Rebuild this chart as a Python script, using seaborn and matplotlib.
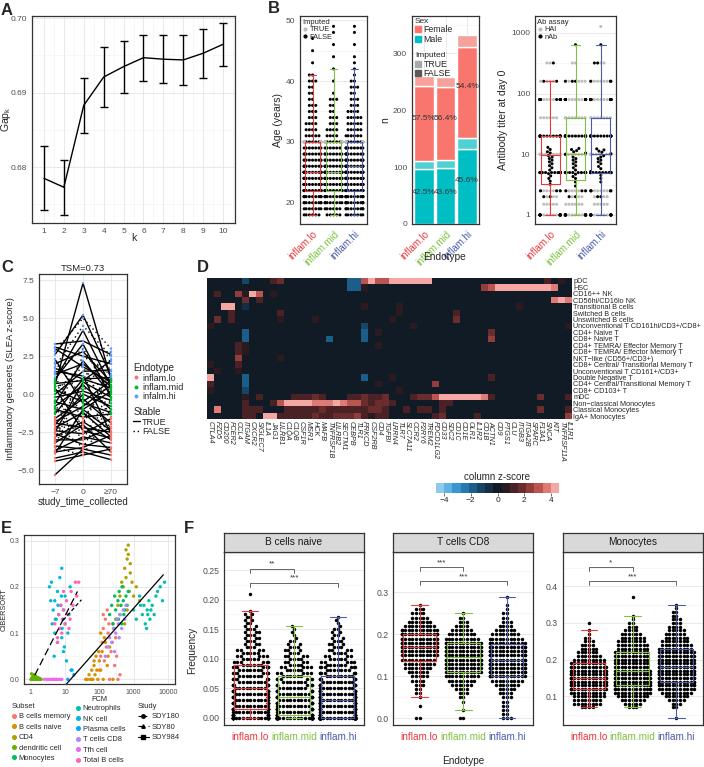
import warnings
warnings.filterwarnings('ignore')
import numpy as np
import pandas as pd
import matplotlib
matplotlib.use('Agg')
import matplotlib.pyplot as plt
import seaborn as sns
from matplotlib.colors import ListedColormap
from matplotlib.lines import Line2D
from matplotlib.patches import Patch

# ---------------- DATA ----------------
endos = ['inflam.lo', 'inflam.mid', 'inflam.hi']
endo_cols = ['#E8383D', '#7DC242', '#4A5BA8']

# A: gap statistic
k_vals = [1, 2, 3, 4, 5, 6, 7, 8, 9, 10]
gap_vals = [0.6785, 0.6773, 0.6883, 0.6921, 0.6935, 0.6947, 0.6945, 0.6944, 0.6953, 0.6965]
gap_se = [0.0043, 0.0037, 0.0037, 0.0040, 0.0035, 0.0031, 0.0032, 0.0033, 0.0033, 0.0029]

# B1: age counts (FALSE = not imputed) for ages 18..49, plus imputed (TRUE) at age 30
ages = list(range(18, 50))
age_lo = [6, 7, 9, 12, 14, 16, 14, 14, 10, 9, 8, 7, 5, 5, 4, 4, 3, 3, 3, 2, 2, 2, 3, 2, 0, 1, 0, 1, 0, 1, 0, 0]
age_mid = [5, 6, 8, 11, 13, 14, 12, 14, 10, 9, 8, 6, 5, 4, 4, 3, 3, 2, 2, 3, 1, 0, 1, 0, 1, 0, 1, 0, 1, 0, 1, 1]
age_hi = [7, 9, 12, 14, 16, 18, 15, 16, 12, 11, 10, 8, 7, 6, 5, 5, 5, 4, 3, 3, 2, 3, 2, 1, 1, 1, 1, 0, 1, 0, 1, 1]
age_imputed_value = 30
age_imputed_n = [14, 14, 16]

# B2: sex counts
male_false = [97, 98, 132]
male_true = [13, 14, 19]
female_false = [133, 128, 159]
female_true = [17, 18, 21]
pct_female = ['57.5%', '56.4%', '54.4%']
pct_male = ['42.5%', '43.6%', '45.6%']

# B3: antibody titers
titer_vals = [1, 1.5, 2, 2.5, 5, 10, 20, 40, 80, 160, 320, 640, 1280]
hai_lo = [6, 5, 3, 6, 10, 10, 12, 6, 6, 4, 2, 0, 0]
nab_lo = [12, 0, 2, 3, 14, 0, 14, 0, 14, 2, 1, 0, 0]
hai_mid = [5, 6, 3, 6, 10, 10, 12, 8, 8, 5, 2, 0, 0]
nab_mid = [12, 0, 2, 3, 12, 0, 14, 0, 14, 3, 0, 1, 0]
hai_hi = [5, 5, 3, 6, 10, 12, 12, 8, 8, 6, 2, 0, 1]
nab_hi = [12, 0, 2, 4, 14, 0, 14, 0, 14, 3, 2, 1, 0]
nab_cont_lo = [3.2, 3.6, 4.0, 4.4, 4.8, 5.5, 6.0, 6.5, 7.0, 7.5, 8.0, 8.5, 9.0, 9.5, 10.5, 11.0, 12.0, 13.0]
nab_cont_mid = [3.0, 3.5, 4.0, 4.3, 4.7, 5.5, 6.0, 6.5, 7.0, 7.5, 8.0, 8.5, 9.0, 10.0, 10.5, 11.0, 11.5, 12.0, 12.5]
nab_cont_hi = [3.5, 4.0, 4.5, 5.2, 5.8, 6.3, 7.0, 7.5, 8.0, 8.5, 9.0, 9.5, 10.2, 10.8, 11.3, 11.8, 12.3]

# C: inflammatory score per subject at -7, 0, >=70
c_m7 = [3.3, 3.1, 2.6, 0.6, 2.0, 1.7, 1.3, 1.0, 0.7, 0.3, 0.0, -0.2, -0.5, -0.8, -1.0, -1.3, -1.6, -1.9, -2.0, -2.2,
        -2.4, -2.6, -2.8, -3.0, -3.2, -3.4, -3.7, -3.8, -4.2, -5.3, 1.5, 2.3, 0.4, -0.6, -1.8, 3.0, -2.5, 0.9, -3.9, -4.4,
        2.8, 1.8, 0.5, -1.2, -2.3, -0.4, 1.1, -3.5, -1.5, 0.2, -2.9, 2.1, -0.9, -3.1, 1.4, -1.7, -2.0, 0.8]
c_0 = [3.5, 2.5, 5.2, 7.3, 2.8, 1.0, 2.0, 3.3, 0.9, -0.5, 1.5, 0.2, -1.0, 0.6, -1.5, 1.0, -0.3, -2.2, 0.0, -1.2,
       -2.6, -3.3, -1.8, -3.0, -2.0, -3.6, -2.8, -3.5, -3.8, -3.6, 1.2, -0.6, -2.4, 2.2, -0.8, 1.8, 0.8, 4.2, -1.0, -4.0,
       5.0, 4.5, 1.0, 2.5, -1.9, -2.0, -1.6, -4.0, -2.5, 1.8, 0.3, -0.2, -3.0, -1.3, 3.0, 0.5, -3.5, -1.2]
c_70 = [2.6, 2.0, 1.2, 1.0, 0.8, 1.1, 0.5, -0.2, 2.2, 0.9, 1.6, -0.4, 0.2, -1.0, -1.3, 0.4, -1.9, -2.5, -0.8, -2.8,
        -1.6, -3.5, -3.0, -2.2, -3.8, -4.0, -3.2, -2.7, -4.3, np.nan, -2.6, -1.2, -2.9, 0.0, 0.6, 0.8, -0.2, 0.5, -2.4, -3.6,
        3.0, 2.5, 2.8, 1.3, 2.0, 1.5, 0.9, -1.0, -2.0, -1.5, 1.0, -0.6, 0.3, -1.8, 0.1, 2.3, -0.3, -2.2]
c_stable = ['TRUE'] * 40 + ['FALSE'] * 18
c_times = ['\u22127', '0', '\u226570']

# D: heatmap (sparse non-zero column z-scores)
d_rows = ['pDC', 'HSC', 'CD16++ NK', 'CD56hi/CD16lo NK', 'Transitional B cells', 'Switched B cells',
          'Unswitched B cells', 'Unconventional T CD161hi/CD3+/CD8+', 'CD4+ Naive T', 'CD8+ Naive T',
          'CD4+ TEMRA/ Effector Memory T', 'CD8+ TEMRA/ Effector Memory T', 'NKT\u2212like (CD56+/CD3+)',
          'CD8+ Central/ Transitional Memory T', 'Unconventional T CD161+/CD3+', 'Double Negative T',
          'CD4+ Central/Transitional Memory T', 'CD8+ CD103+ T', 'mDC', 'Non\u2212classical Monocytes',
          'Classical Monocytes', 'IgA+ Monocytes']
d_cols = ['CTLA4', 'FZD5', 'CD200', 'FCER2', 'CCL4', 'ITGAM', 'CXCR2', 'SIGLEC7', 'IL1A', 'JAG1', 'LILRB1',
          'C1QA', 'C1QB', 'CSF1R', 'MSR1', 'HCK', 'MAFB', 'TNFRSF1B', 'LILRB2', 'SECTM1', 'CEBPB', 'TLR1',
          'PRKCD', 'CSF2RB', 'CD4', 'TGFBI', 'LRRN4', 'TLR7', 'SLC7A11', 'CCR2', 'P2RY6', 'TREM2', 'PDCD1LG2',
          'CD33', 'SDC2', 'CD1C', 'CD1E', 'OLR1', 'IL1R2', 'CD1B', 'ACTN1', 'CD9', 'PTGS1', 'CLU', 'ITGB3',
          'ITGA2B', 'SPARC', 'F13A1', 'SNCA', 'KIT', 'TNFRSF11A', 'IL1R1']
d_cells = [
    (0, 5, -1.5), (0, 9, 1.5), (0, 10, 2.0), (0, 20, -1.8), (0, 21, -1.8), (0, 22, 3.0), (0, 23, 4.3), (0, 24, 3.3),
    (0, 25, 3.3), (0, 26, 4.3), (0, 27, 4.3), (0, 28, 4.3), (0, 29, 4.3), (0, 30, 4.3), (0, 31, 4.3), (0, 48, 1.5),
    (0, 50, 0.8),
    (1, 20, -1.6), (1, 21, -1.6), (1, 22, 0.8), (1, 39, 2.2), (1, 40, 3.2), (1, 41, 4.3), (1, 42, 4.3), (1, 43, 4.3),
    (1, 44, 4.3), (1, 45, 4.3), (1, 46, 4.3), (1, 47, 4.3), (1, 48, 4.3), (1, 49, 3.4),
    (2, 1, 1.5), (2, 4, 2.5), (2, 5, 0.8), (2, 6, 4.3), (2, 7, 3.0), (2, 9, 0.8),
    (3, 5, 1.8), (3, 7, 1.2), (3, 49, 3.4), (3, 50, 4.3), (3, 51, 3.4),
    (4, 2, 4.3), (4, 3, 4.3), (4, 5, -0.8), (4, 22, 0.8), (4, 27, 0.8), (4, 44, 0.6),
    (5, 3, 1.2), (5, 10, 1.0), (5, 27, 0.8), (5, 35, 1.0),
    (6, 1, 2.0), (6, 3, 1.5), (6, 10, 0.8), (6, 15, 0.7), (6, 35, 2.0), (6, 26, 0.8),
    (7, 0, 0.8), (7, 22, -1.5), (7, 29, 0.7), (7, 51, 0.8),
    (8, 5, -1.8), (8, 22, -1.8), (8, 24, 0.8), (8, 40, 1.8),
    (9, 5, -1.8), (9, 17, -1.8), (9, 22, -1.8), (9, 40, 2.6),
    (10, 4, 1.5), (10, 5, 0.8), (10, 24, 0.8),
    (11, 4, 1.2), (11, 5, 0.8),
    (12, 4, 2.2), (12, 10, 0.8),
    (13, 0, 0.8), (13, 4, 1.2),
    (14, 1, 0.8), (14, 4, 0.8),
    (15, 0, 4.3), (15, 5, -1.8), (15, 22, -1.8), (15, 26, 0.8), (15, 40, 1.5),
    (16, 0, 1.0), (16, 5, -1.8), (16, 32, 2.6), (16, 24, 0.7),
    (17, 0, 0.8), (17, 5, -1.2), (17, 27, 0.8),
    (18, 5, 0.8), (18, 7, 1.5), (18, 12, 1.2), (18, 13, 1.5), (18, 14, 1.5), (18, 15, 1.8), (18, 16, 1.2),
    (18, 20, 1.5), (18, 21, 1.5), (18, 22, 2.0), (18, 23, 1.2), (18, 24, 1.2), (18, 25, 1.8), (18, 29, 1.2),
    (18, 30, 2.0), (18, 31, 2.0), (18, 32, 3.2), (18, 33, 4.3), (18, 34, 4.3), (18, 35, 4.3), (18, 36, 4.3),
    (18, 37, 4.3), (18, 38, 4.3), (18, 39, 3.6), (18, 40, 1.5), (18, 47, 2.0), (18, 51, 1.5),
    (19, 5, 1.0), (19, 9, 1.0), (19, 10, 3.2), (19, 11, 4.3), (19, 12, 4.3), (19, 13, 4.3), (19, 14, 4.3),
    (19, 15, 3.6), (19, 16, 3.6), (19, 17, 3.6), (19, 18, 4.3), (19, 19, 3.6), (19, 20, 3.0), (19, 21, 3.0),
    (19, 22, 1.8), (19, 23, 1.5), (19, 24, 1.8), (19, 25, 1.8), (19, 26, 1.0), (19, 33, 1.2), (19, 34, 1.0),
    (20, 1, 3.6), (20, 5, 1.5), (20, 6, 1.0), (20, 7, 1.2), (20, 11, 1.0), (20, 12, 1.0), (20, 13, 1.0),
    (20, 14, 1.2), (20, 15, 1.5), (20, 16, 1.8), (20, 17, 1.5), (20, 18, 1.5), (20, 19, 1.2), (20, 20, 1.5),
    (20, 21, 1.5), (20, 22, 1.5), (20, 23, 1.8), (20, 24, 1.8), (20, 25, 1.5), (20, 28, 1.0), (20, 30, 1.2),
    (20, 31, 1.2), (20, 33, 1.0), (20, 47, 1.8), (20, 51, 1.0),
    (21, 5, 1.5), (21, 6, 1.0), (21, 8, 4.3), (21, 9, 4.3), (21, 10, 1.2), (21, 11, 1.2), (21, 12, 1.2),
    (21, 13, 1.5), (21, 14, 1.5), (21, 15, 1.8), (21, 16, 1.5), (21, 17, 1.5), (21, 18, 1.8), (21, 19, 1.8),
    (21, 20, 1.8), (21, 21, 2.6), (21, 22, 1.5), (21, 23, 0.8), (21, 24, 1.5), (21, 25, 1.5), (21, 32, 1.2),
    (21, 33, 1.8), (21, 38, 1.0), (21, 51, 2.6)]
d_palette = ['#8ec9f0', '#5fb0e3', '#3a95d0', '#2679b0', '#1c5d8a', '#174566', '#142f45', '#111b26',
             '#2b1a1f', '#4a2125', '#6b2c2e', '#923d3b', '#bb5552', '#df7b76', '#f5a7a3']

# E: CIBERSORT vs FCM
e_subsets = ['B cells memory', 'B cells naive', 'CD4', 'dendritic cell', 'Monocytes', 'Neutrophils',
             'NK cell', 'Plasma cells', 'T cells CD8', 'Tfh cell', 'Total B cells']
e_colors = ['#F8766D', '#DB8E00', '#AEA200', '#64B200', '#00BD5C', '#00C1A7', '#00BADE', '#00A6FF',
            '#B385FF', '#EF67EB', '#FF63B6']
e_fcm = {
    'B cells memory': [100, 110, 120, 130, 140, 150, 160, 180, 200, 220, 250, 280, 300, 350, 400, 130, 170, 240, 320, 190],
    'B cells naive': [40, 45, 50, 55, 60, 65, 70, 75, 80, 90, 100, 110, 120, 130, 150, 170, 200, 250, 60, 85, 95, 140, 180, 70, 110],
    'CD4': [300, 350, 400, 450, 500, 550, 600, 650, 700, 750, 800, 900, 1000, 1200, 1500, 600, 700, 800, 650, 550],
    'dendritic cell': [1.0, 1.1, 1.15, 1.2, 1.25, 1.3, 1.35, 1.4, 1.5, 1.6, 1.7, 1.8, 1.05, 1.12, 1.22, 1.33, 1.45, 1.55, 1.9, 2.0],
    'Monocytes': [200, 230, 250, 280, 300, 320, 350, 380, 400, 430, 460, 500, 550, 600, 650, 700, 270, 360, 450, 520],
    'Neutrophils': [1000, 1200, 1500, 1800, 2000, 2200, 2500, 2800, 3000, 3500, 4000, 4500, 5000, 6000, 7000, 8000, 2400, 3200, 1600, 2600],
    'NK cell': [3.5, 4, 4.2, 4.5, 5, 5, 5.5, 6, 6, 6.5, 7, 7, 7.5, 8, 8, 8.5, 9, 9, 10, 10, 11, 12, 13, 14, 4.8, 6.2, 7.8, 9.5, 5.2, 8.2, 16, 3.8],
    'Plasma cells': [12, 15, 18],
    'T cells CD8': [150, 180, 200, 230, 260, 300, 330, 360, 400, 450, 500, 550, 600, 280, 380],
    'Tfh cell': [2.5, 3, 3.5, 4, 4.5, 5, 5.5, 6, 7, 8],
    'Total B cells': [5, 6, 6.5, 7, 7.5, 8, 8.5, 9, 10, 11, 12, 13, 15, 17, 20, 22, 25, 6, 9, 14]}
e_cib = {
    'B cells memory': [0.02, 0.05, 0.08, 0.11, 0.04, 0.13, 0.07, 0.10, 0.00, 0.06, 0.12, 0.03, 0.09, 0.0, 0.01, 0.14, 0.15, 0.08, 0.05, 0.12],
    'B cells naive': [0.0, 0.0, 0.01, 0.0, 0.02, 0.0, 0.03, 0.01, 0.05, 0.0, 0.04, 0.02, 0.06, 0.0, 0.08, 0.03, 0.07, 0.0, 0.0, 0.02, 0.06, 0.09, 0.05, 0.04, 0.10],
    'CD4': [0.13, 0.16, 0.18, 0.21, 0.20, 0.24, 0.22, 0.26, 0.29, 0.19, 0.23, 0.21, 0.18, 0.20, 0.17, 0.28, 0.27, 0.25, 0.15, 0.12],
    'dendritic cell': [0.0, 0.005, 0.0, 0.01, 0.002, 0.0, 0.007, 0.001, 0.0, 0.004, 0.0, 0.002, 0.012, 0.003, 0.0, 0.008, 0.001, 0.0, 0.0, 0.0],
    'Monocytes': [0.14, 0.16, 0.12, 0.18, 0.15, 0.13, 0.17, 0.19, 0.14, 0.16, 0.20, 0.17, 0.15, 0.18, 0.16, 0.19, 0.11, 0.13, 0.12, 0.14],
    'Neutrophils': [0.15, 0.13, 0.18, 0.14, 0.16, 0.12, 0.15, 0.17, 0.13, 0.16, 0.14, 0.18, 0.19, 0.20, 0.17, 0.21, 0.11, 0.15, 0.16, 0.14],
    'NK cell': [0.20, 0.21, 0.12, 0.15, 0.10, 0.17, 0.13, 0.19, 0.08, 0.14, 0.22, 0.11, 0.16, 0.09, 0.24, 0.13, 0.06, 0.15, 0.12, 0.18, 0.04, 0.10, 0.14, 0.20, 0.05, 0.16, 0.18, 0.07, 0.13, 0.11, 0.02, 0.17],
    'Plasma cells': [0.0, 0.02, 0.01],
    'T cells CD8': [0.05, 0.07, 0.09, 0.08, 0.11, 0.10, 0.13, 0.12, 0.14, 0.11, 0.15, 0.13, 0.16, 0.06, 0.09],
    'Tfh cell': [0, 0, 0, 0, 0, 0, 0, 0, 0, 0],
    'Total B cells': [0.12, 0.09, 0.14, 0.11, 0.16, 0.10, 0.13, 0.15, 0.12, 0.17, 0.14, 0.11, 0.19, 0.16, 0.21, 0.18, 0.21, 0.08, 0.19, 0.13]}
e_studies = ['SDY180', 'SDY80', 'SDY984']
e_fit_slope = [0.0826, 0.145, 0.0834]
e_fit_icpt = [0.050, -0.0075, -0.0967]
e_fit_min = [8.8, 1.3, 11]
e_fit_max = [30, 23, 7400]
e_fit_ls = [(0, (3, 2)), (0, (6, 3)), '-']
e_markers = ['o', '^', 's']

# F: frequencies (bin value + counts per endotype)
fb_bins = [0.000, 0.005, 0.010, 0.015, 0.020, 0.025, 0.030, 0.035, 0.040, 0.045, 0.050, 0.055, 0.060, 0.065,
           0.070, 0.075, 0.080, 0.085, 0.090, 0.095, 0.100, 0.105, 0.110, 0.115, 0.120, 0.125, 0.130, 0.135,
           0.140, 0.145, 0.150, 0.155, 0.160, 0.165, 0.170, 0.175, 0.180, 0.185, 0.190, 0.195, 0.200, 0.205, 0.210]
fb_lo = [30, 11, 11, 11, 10, 10, 10, 10, 10, 10, 9, 8, 8, 7, 7, 7, 7, 7, 6, 6, 5, 5, 5, 4, 3, 3, 3, 3, 3, 3, 3,
         2, 2, 2, 2, 2, 1, 0, 0, 0, 0, 0, 1]
fb_mid = [50, 10, 10, 10, 10, 9, 9, 9, 9, 8, 8, 7, 7, 6, 6, 5, 5, 5, 4, 4, 4, 4, 3, 3, 3, 2, 2, 1, 1, 1, 1, 1,
          0, 0, 0, 0, 0, 0, 0, 0, 0, 0, 0]
fb_hi = [75, 12, 12, 12, 12, 12, 12, 11, 11, 10, 10, 9, 9, 8, 8, 7, 7, 6, 6, 5, 5, 4, 4, 4, 3, 3, 3, 2, 2, 2, 2,
         1, 1, 1, 1, 0, 0, 0, 0, 0, 0, 0, 0]
ft_bins = [0.00, 0.01, 0.02, 0.03, 0.04, 0.05, 0.06, 0.07, 0.08, 0.09, 0.10, 0.11, 0.12, 0.13, 0.14, 0.15,
           0.16, 0.17, 0.18, 0.19, 0.20, 0.21, 0.22, 0.23, 0.24, 0.25, 0.26, 0.27, 0.28, 0.29]
ft_lo = [2, 0, 0, 1, 0, 1, 2, 2, 3, 4, 5, 6, 8, 9, 10, 11, 12, 13, 14, 14, 14, 12, 9, 7, 5, 4, 3, 1, 0, 0]
ft_mid = [2, 0, 1, 0, 1, 2, 3, 4, 6, 8, 10, 11, 12, 13, 14, 14, 14, 13, 12, 10, 8, 6, 4, 3, 2, 1, 0, 0, 0, 0]
ft_hi = [3, 2, 2, 2, 2, 3, 4, 5, 7, 9, 12, 14, 14, 14, 14, 14, 14, 13, 12, 10, 8, 6, 4, 3, 2, 2, 1, 1, 0, 1]
fm_bins = [0.04, 0.05, 0.06, 0.07, 0.08, 0.09, 0.10, 0.11, 0.12, 0.13, 0.14, 0.15, 0.16, 0.17, 0.18, 0.19,
           0.20, 0.21, 0.22, 0.23, 0.24, 0.25, 0.26, 0.27, 0.28, 0.29, 0.30, 0.31, 0.32, 0.33, 0.34, 0.35, 0.36, 0.37]
fm_lo = [0, 0, 0, 4, 8, 8, 9, 10, 12, 13, 14, 14, 14, 13, 12, 10, 9, 7, 6, 5, 4, 3, 2, 1, 1, 0, 1, 0, 0, 0, 0, 0, 0, 0]
fm_mid = [0, 0, 0, 3, 5, 7, 9, 11, 13, 14, 14, 13, 12, 11, 10, 10, 10, 10, 10, 9, 9, 8, 7, 6, 4, 3, 2, 1, 1, 0, 0, 0, 0, 1]
fm_hi = [1, 0, 0, 2, 3, 5, 7, 9, 11, 13, 14, 14, 14, 14, 13, 12, 12, 11, 11, 10, 9, 8, 7, 6, 5, 4, 3, 3, 2, 2, 1, 1, 0, 0]
f_titles = ['B cells naive', 'T cells CD8', 'Monocytes']
f_sig = [[('**', 0, 1, 0.252), ('***', 0, 2, 0.228)],
         [('***', 0, 1, 0.360), ('***', 0, 2, 0.327)],
         [('*', 0, 1, 0.452), ('***', 0, 2, 0.414)]]

# ---------------- FIGURE ----------------
sns.set_theme(style='white')
plt.rcParams['font.family'] = ['Liberation Sans', 'DejaVu Sans']
plt.rcParams['mathtext.fontset'] = 'custom'
plt.rcParams['mathtext.rm'] = 'Liberation Sans'

W, H = 704, 767
fig = plt.figure(figsize=(W / 100, H / 100), dpi=100)
fig.patch.set_facecolor('white')
TICK = 6.0


def add_ax(l, t, r, b):
    return fig.add_axes([l / W, 1 - b / H, (r - l) / W, (b - t) / H])


def bw(ax, ls=TICK):
    ax.set_facecolor('white')
    ax.set_axisbelow(True)
    ax.grid(True, which='major', color='#E5E5E5', lw=0.6)
    ax.grid(True, which='minor', color='#F2F2F2', lw=0.4)
    for s in ax.spines.values():
        s.set_visible(True)
        s.set_color('#333333')
        s.set_linewidth(0.9)
    ax.tick_params(axis='both', which='major', length=2, width=0.5, color='#333333',
                   labelcolor='#4D4D4D', labelsize=ls, pad=1.5)
    ax.tick_params(which='minor', length=0)


def color_xticks(ax, fs, rot=0):
    labs = ax.get_xticklabels()
    for lbl, c in zip(labs, endo_cols):
        lbl.set_color(c)
        lbl.set_fontsize(fs)
        if rot:
            lbl.set_rotation(rot)
            lbl.set_ha('right')
            lbl.set_rotation_mode('anchor')


def expand(vals, counts):
    return np.repeat(np.asarray(vals, dtype=float), counts)


def letter(x, y, s):
    fig.text(x / W, 1 - y / H, s, fontsize=12, fontweight='bold', ha='left', va='top')


def small_legend(ax, handles, labels, title, anchor, fs=5, tfs=5.5, **kw):
    leg = ax.legend(handles, labels, title=title, loc='upper left', bbox_to_anchor=anchor,
                    frameon=False, fontsize=fs, title_fontsize=tfs, handlelength=0.7,
                    handletextpad=0.3, labelspacing=0.05, borderpad=0.1, borderaxespad=0, **kw)
    leg._legend_box.align = 'left'
    return leg


def endo_box(ax, data, y, **kw):
    sns.boxplot(data=data, x='endo', y=y, hue='endo', order=endos, hue_order=endos,
                palette=endo_cols, fill=False, showfliers=False, linewidth=0.8, width=0.75,
                legend=False, ax=ax, **kw)
    for art in ax.patches + ax.lines:
        art.set_zorder(4)


# ---- A ----
axA = add_ax(32, 16, 235, 223)
bw(axA)
sns.lineplot(x=k_vals, y=gap_vals, color='black', lw=1.0, ax=axA)
axA.errorbar(k_vals, gap_vals, yerr=gap_se, fmt='none', ecolor='black', elinewidth=1.0, capsize=3.2, capthick=1.0)
axA.set_xlim(0.4, 10.6)
axA.set_ylim(0.6725, 0.7003)
axA.set_xticks(k_vals)
axA.set_xticks(np.arange(0.5, 11, 1), minor=True)
axA.set_yticks([0.68, 0.69, 0.70])
axA.set_yticklabels(['0.68', '0.69', '0.70'])
axA.set_yticks([0.675, 0.685, 0.695], minor=True)
axA.set_xlabel('k', fontsize=7.5, labelpad=-1)
axA.set_ylabel(r'Gap$_{\mathrm{k}}$', fontsize=7.5)
axA.yaxis.set_label_coords(-0.095, 0.5)
letter(1, 3, 'A')

# ---- B1: age ----
rows = []
for e, cnt, ni in zip(endos, [age_lo, age_mid, age_hi], age_imputed_n):
    for a in expand(ages, cnt):
        rows.append((e, a, 'FALSE'))
    for a in expand([age_imputed_value], [ni]):
        rows.append((e, a, 'TRUE'))
df_age = pd.DataFrame(rows, columns=['endo', 'age', 'imputed'])
axB1 = add_ax(300, 16, 367, 224)
bw(axB1)
sns.swarmplot(data=df_age, x='endo', y='age', hue='imputed', order=endos, hue_order=['TRUE', 'FALSE'],
              palette={'TRUE': '#BDBDBD', 'FALSE': 'black'}, size=2.2, linewidth=0,
              legend=False, ax=axB1)
endo_box(axB1, df_age, 'age')
axB1.set_xlim(-0.6, 2.6)
axB1.set_ylim(16.5, 50.7)
axB1.set_yticks([20, 30, 40, 50])
axB1.set_yticks([25, 35, 45], minor=True)
axB1.set_xlabel('')
axB1.set_ylabel('Age (years)', fontsize=7.5, labelpad=2)
color_xticks(axB1, 7, rot=45)
small_legend(axB1, [Line2D([], [], marker='o', ls='', color='#BDBDBD', markersize=2),
                    Line2D([], [], marker='o', ls='', color='black', markersize=2)],
             ['TRUE', 'FALSE'], 'Imputed', (0.02, 0.99), fs=5.3, tfs=5.5)
letter(268, 1, 'B')

# ---- B2: sex bars ----
axB2 = add_ax(412, 16, 479, 224)
bw(axB2)
xpos = np.arange(3)
b1 = np.array(male_false, float)
b2 = b1 + np.array(male_true)
b3 = b2 + np.array(female_false)
axB2.bar(xpos, male_false, width=0.92, color='#00BFC4', zorder=2)
axB2.bar(xpos, male_true, bottom=b1, width=0.92, color='#4FD0D3', zorder=2)
axB2.bar(xpos, female_false, bottom=b2, width=0.92, color='#F8766D', zorder=2)
axB2.bar(xpos, female_true, bottom=b3, width=0.92, color='#F7A19B', zorder=2)
for i in range(3):
    axB2.text(xpos[i], b2[i] + (female_false[i] + female_true[i]) / 2, pct_female[i],
              ha='center', va='center', fontsize=6, color='#333333', zorder=3)
    axB2.text(xpos[i], b2[i] / 2, pct_male[i], ha='center', va='center', fontsize=6,
              color='#333333', zorder=3)
axB2.set_xlim(-0.55, 2.55)
axB2.set_ylim(0, 365)
axB2.set_xticks(xpos)
axB2.set_xticklabels(endos)
axB2.set_yticks([0, 100, 200, 300])
axB2.set_yticks([50, 150, 250, 350], minor=True)
axB2.set_ylabel('n', fontsize=7.5, labelpad=2)
color_xticks(axB2, 7, rot=45)
l1 = small_legend(axB2, [Patch(color='#F8766D'), Patch(color='#00BFC4')], ['Female', 'Male'], 'Sex',
                  (0.03, 0.995), fs=6.3, tfs=6.0)
axB2.add_artist(l1)
small_legend(axB2, [Patch(color='#A8A8A8'), Patch(color='#5A5A5A')], ['TRUE', 'FALSE'], 'Imputed',
             (0.03, 0.83), fs=6.3, tfs=6.0)
fig.text(445 / W, 1 - 257 / H, 'Endotype', ha='center', va='center', fontsize=7.3)

# ---- B3: titers ----
rows = []
for e, h, n, c in zip(endos, [hai_lo, hai_mid, hai_hi], [nab_lo, nab_mid, nab_hi],
                      [nab_cont_lo, nab_cont_mid, nab_cont_hi]):
    for v in expand(titer_vals, h):
        rows.append((e, v, 'HAI'))
    for v in expand(titer_vals, n):
        rows.append((e, v, 'nAb'))
    for v in c:
        rows.append((e, v, 'nAb'))
df_ab = pd.DataFrame(rows, columns=['endo', 'titer', 'assay'])
axB3 = add_ax(535, 16, 616, 224)
bw(axB3)
sns.swarmplot(data=df_ab, x='endo', y='titer', hue='assay', order=endos, hue_order=['HAI', 'nAb'],
              palette={'HAI': '#BDBDBD', 'nAb': 'black'}, size=2.2, linewidth=0,
              legend=False, ax=axB3, log_scale=True)
endo_box(axB3, df_ab, 'titer', log_scale=True)
axB3.set_xlim(-0.6, 2.6)
axB3.set_ylim(10 ** -0.149, 10 ** 3.28)
axB3.set_yticks([1, 10, 100, 1000])
axB3.set_yticklabels(['1', '10', '100', '1000'])
axB3.yaxis.set_minor_locator(matplotlib.ticker.FixedLocator([10 ** 0.5, 10 ** 1.5, 10 ** 2.5]))
axB3.yaxis.set_minor_formatter(matplotlib.ticker.NullFormatter())
axB3.set_xlabel('')
axB3.set_ylabel('Antibody titer at day 0', fontsize=7.5, labelpad=2)
color_xticks(axB3, 7, rot=45)
small_legend(axB3, [Line2D([], [], marker='o', ls='', color='#BDBDBD', markersize=2),
                    Line2D([], [], marker='o', ls='', color='black', markersize=2)],
             ['HAI', 'nAb'], 'Ab assay', (0.02, 0.99), fs=5.3, tfs=5.5)

# ---- C ----
rows = []
for i in range(len(c_m7)):
    for t, v in zip([0, 1, 2], [c_m7[i], c_0[i], c_70[i]]):
        if not np.isnan(v):
            rows.append((i, t, v, c_stable[i]))
dfc = pd.DataFrame(rows, columns=['subj', 't', 'v', 'stable'])
dfc['endo'] = pd.cut(dfc['v'], bins=[-10, -1.5, 1.0, 10], labels=['lo', 'mid', 'hi']).astype(str)
axC = add_ax(39, 274, 127, 484)
bw(axC)
sns.lineplot(data=dfc, x='t', y='v', units='subj', estimator=None, style='stable',
             style_order=['TRUE', 'FALSE'], dashes={'TRUE': '', 'FALSE': (1, 2.2)},
             color='black', lw=1.0, legend=False, ax=axC)
sns.scatterplot(data=dfc, x='t', y='v', hue='endo', hue_order=['lo', 'mid', 'hi'],
                palette=['#F8766D', '#00BA38', '#619CFF'], s=3, linewidth=0, legend=False, ax=axC, zorder=3)
axC.set_xlim(-0.57, 2.57)
axC.set_ylim(-5.9, 7.9)
axC.set_xticks([0, 1, 2])
axC.set_xticklabels(c_times)
axC.set_yticks([-5, -2.5, 0, 2.5, 5, 7.5])
axC.set_yticklabels(['\u22125.0', '\u22122.5', '0.0', '2.5', '5.0', '7.5'])
axC.set_yticks([-3.75, -1.25, 1.25, 3.75, 6.25], minor=True)
axC.grid(False, axis='x', which='both')
axC.grid(True, axis='x', which='major', color='#E5E5E5', lw=0.6)
axC.set_xlabel('study_time_collected', fontsize=7, labelpad=1)
axC.set_ylabel('Inflammatory genesets (SLEA z-score)', fontsize=6.8, labelpad=2)
axC.set_title('TSM=0.73', fontsize=6.8, pad=2)
lc1 = small_legend(axC, [Line2D([], [], marker='o', ls='', color=c, markersize=1.8)
                         for c in ['#F8766D', '#00BA38', '#619CFF']],
                   ['inflam.lo', 'inflam.mid', 'infalm.hi'], 'Endotype', (1.06, 0.58), fs=6.5, tfs=7)
axC.add_artist(lc1)
small_legend(axC, [Line2D([], [], color='black', lw=1.0), Line2D([], [], color='black', lw=1.0, ls=(0, (1, 2)))],
             ['TRUE', 'FALSE'], 'Stable', (1.06, 0.37), fs=6.5, tfs=7)
letter(1, 260, 'C')

# ---- D: heatmap ----
M = np.zeros((len(d_rows), len(d_cols)))
for r, c, z in d_cells:
    M[r, c] = z
dfd = pd.DataFrame(M, index=d_rows, columns=d_cols)
axD = add_ax(206.7, 277.7, 572, 419.3)
caxD = add_ax(436, 483, 559, 493)
sns.heatmap(dfd, cmap=ListedColormap(d_palette), vmin=-4.6, vmax=4.6, ax=axD, cbar_ax=caxD,
            cbar_kws={'orientation': 'horizontal', 'ticks': [-4, -2, 0, 2, 4]},
            xticklabels=d_cols, yticklabels=d_rows, linewidths=0)
axD.tick_params(axis='y', left=False, right=True, labelleft=False, labelright=True, length=0, pad=1)
axD.tick_params(axis='x', length=0, pad=1)
for lbl in axD.get_yticklabels():
    lbl.set_rotation(0)
    lbl.set_fontsize(5.2)
    lbl.set_ha('left')
for lbl in axD.get_xticklabels():
    lbl.set_rotation(270)
    lbl.set_fontsize(5.2)
    lbl.set_fontstyle('italic')
    lbl.set_va('top')
    lbl.set_ha('center')
cbar = axD.collections[0].colorbar
cbar.outline.set_visible(False)
caxD.tick_params(labelsize=6, length=2, width=0.5, color='#333333', pad=1)
caxD.set_xticklabels(['\u22124', '\u22122', '0', '2', '4'])
caxD.set_title('column z-score', fontsize=7, pad=2)
letter(197, 260, 'D')

# ---- E ----
rows = []
for s in e_subsets:
    for x, y in zip(e_fcm[s], e_cib[s]):
        rows.append((s, x, y))
dfe = pd.DataFrame(rows, columns=['subset', 'fcm', 'cib'])
axE = add_ax(24, 535, 175, 684)
bw(axE, ls=5)
sns.scatterplot(data=dfe, x='fcm', y='cib', hue='subset', hue_order=e_subsets, palette=e_colors,
                s=6, linewidth=0, legend=False, ax=axE, zorder=2)
axE.set_xscale('log')
for st, sl, ic, lo, hi, ls in zip(e_studies, e_fit_slope, e_fit_icpt, e_fit_min, e_fit_max, e_fit_ls):
    xs = np.logspace(np.log10(lo), np.log10(hi), 30)
    axE.plot(xs, ic + sl * np.log10(xs), color='black', lw=0.9, ls=ls, zorder=3)
axE.set_xlim(10 ** -0.2, 10 ** 4.21)
axE.set_ylim(-0.010, 0.312)
axE.set_xticks([1, 10, 100, 1000, 10000])
axE.set_xticklabels(['1', '10', '100', '1000', '10000'])
axE.xaxis.set_minor_locator(matplotlib.ticker.FixedLocator([10 ** 0.5, 10 ** 1.5, 10 ** 2.5, 10 ** 3.5]))
axE.xaxis.set_minor_formatter(matplotlib.ticker.NullFormatter())
axE.set_yticks([0.0, 0.1, 0.2, 0.3])
axE.set_yticklabels(['0.0', '0.1', '0.2', '0.3'])
axE.set_yticks([0.05, 0.15, 0.25], minor=True)
axE.set_xlabel('FCM', fontsize=5.3, labelpad=0)
axE.set_ylabel('CIBERSORT', fontsize=5.3, labelpad=1)
hE = [Line2D([], [], marker='o', ls='', color=c, markersize=2.6) for c in e_colors]
le1 = fig.legend(hE[:5], e_subsets[:5], title='Subset', loc='upper left', bbox_to_anchor=(12 / W, 1 - 703 / H),
                 frameon=False, fontsize=5.4, title_fontsize=5.4, handlelength=0.6, handletextpad=0.3,
                 labelspacing=0.42, borderpad=0, borderaxespad=0)
le1._legend_box.align = 'left'
fig.legend(hE[5:], e_subsets[5:], loc='upper left', bbox_to_anchor=(76 / W, 1 - 705 / H),
           frameon=False, fontsize=5.4, handlelength=0.6, handletextpad=0.3,
           labelspacing=0.42, borderpad=0, borderaxespad=0)
hS = [Line2D([], [], marker=m, color='black', ls=ls, lw=0.8, markersize=2.5) for m, ls in zip(e_markers, e_fit_ls)]
le3 = fig.legend(hS, e_studies, title='Study', loc='upper left', bbox_to_anchor=(138 / W, 1 - 703 / H),
                 frameon=False, fontsize=5.4, title_fontsize=5.4, handlelength=1.4, handletextpad=0.4,
                 labelspacing=0.42, borderpad=0, borderaxespad=0)
le3._legend_box.align = 'left'
letter(1, 521, 'E')

# ---- F ----
f_data = [(fb_bins, [fb_lo, fb_mid, fb_hi]), (ft_bins, [ft_lo, ft_mid, ft_hi]), (fm_bins, [fm_lo, fm_mid, fm_hi])]
f_x = [(224, 364), (393.3, 533.3), (562.7, 702.7)]
f_ylim = [(-0.0124, 0.281), (-0.016, 0.397), (0.0218, 0.494)]
f_ticks = [([0, 0.05, 0.10, 0.15, 0.20, 0.25], ['0.00', '0.05', '0.10', '0.15', '0.20', '0.25'],
            [0.025, 0.075, 0.125, 0.175, 0.225, 0.275]),
           ([0, 0.1, 0.2, 0.3], ['0.0', '0.1', '0.2', '0.3'], [0.05, 0.15, 0.25, 0.35]),
           ([0.1, 0.2, 0.3, 0.4], ['0.1', '0.2', '0.3', '0.4'], [0.05, 0.15, 0.25, 0.35, 0.45])]
for fi in range(3):
    bins, cnts = f_data[fi]
    rows = []
    for e, c in zip(endos, cnts):
        for v in expand(bins, c):
            rows.append((e, v))
    dff = pd.DataFrame(rows, columns=['endo', 'freq'])
    l, r = f_x[fi]
    ax = add_ax(l, 551.7, r, 725)
    bw(ax, ls=6.2)
    sns.swarmplot(data=dff, x='endo', y='freq', order=endos, color='black', size=2.5, linewidth=0, ax=ax)
    endo_box(ax, dff, 'freq')
    for txt, x1, x2, y in f_sig[fi]:
        rng = f_ylim[fi][1] - f_ylim[fi][0]
        d = rng * 0.022
        ax.plot([x1, x1, x2, x2], [y - d, y, y, y - d], color='#4D4D4D', lw=0.6)
        ax.text((x1 + x2) / 2, y + d * 0.3, txt, ha='center', va='bottom', fontsize=5.8, color='#333333')
    ax.set_xlim(-0.6, 2.6)
    ax.set_ylim(*f_ylim[fi])
    tk, tl, mn = f_ticks[fi]
    ax.set_yticks(tk)
    ax.set_yticklabels(tl)
    ax.set_yticks(mn, minor=True)
    ax.set_xlabel('')
    ax.set_ylabel('')
    color_xticks(ax, 7.2)
    ax.tick_params(axis='x', pad=3)
    sax = add_ax(l, 533, r, 551.7)
    sax.set_facecolor('#D9D9D9')
    sax.set_xticks([])
    sax.set_yticks([])
    for s in sax.spines.values():
        s.set_visible(True)
        s.set_color('#333333')
        s.set_linewidth(0.9)
    sax.text(0.5, 0.5, f_titles[fi], ha='center', va='center', fontsize=7.3, color='#1A1A1A',
             transform=sax.transAxes)
fig.text(463 / W, 1 - 761 / H, 'Endotype', ha='center', va='center', fontsize=7.2)
fig.text(192 / W, 1 - 650 / H, 'Frequency', ha='center', va='center', rotation=90, fontsize=7.2)
letter(184, 521, 'F')

fig.savefig('out.png', dpi=100, facecolor='white')
